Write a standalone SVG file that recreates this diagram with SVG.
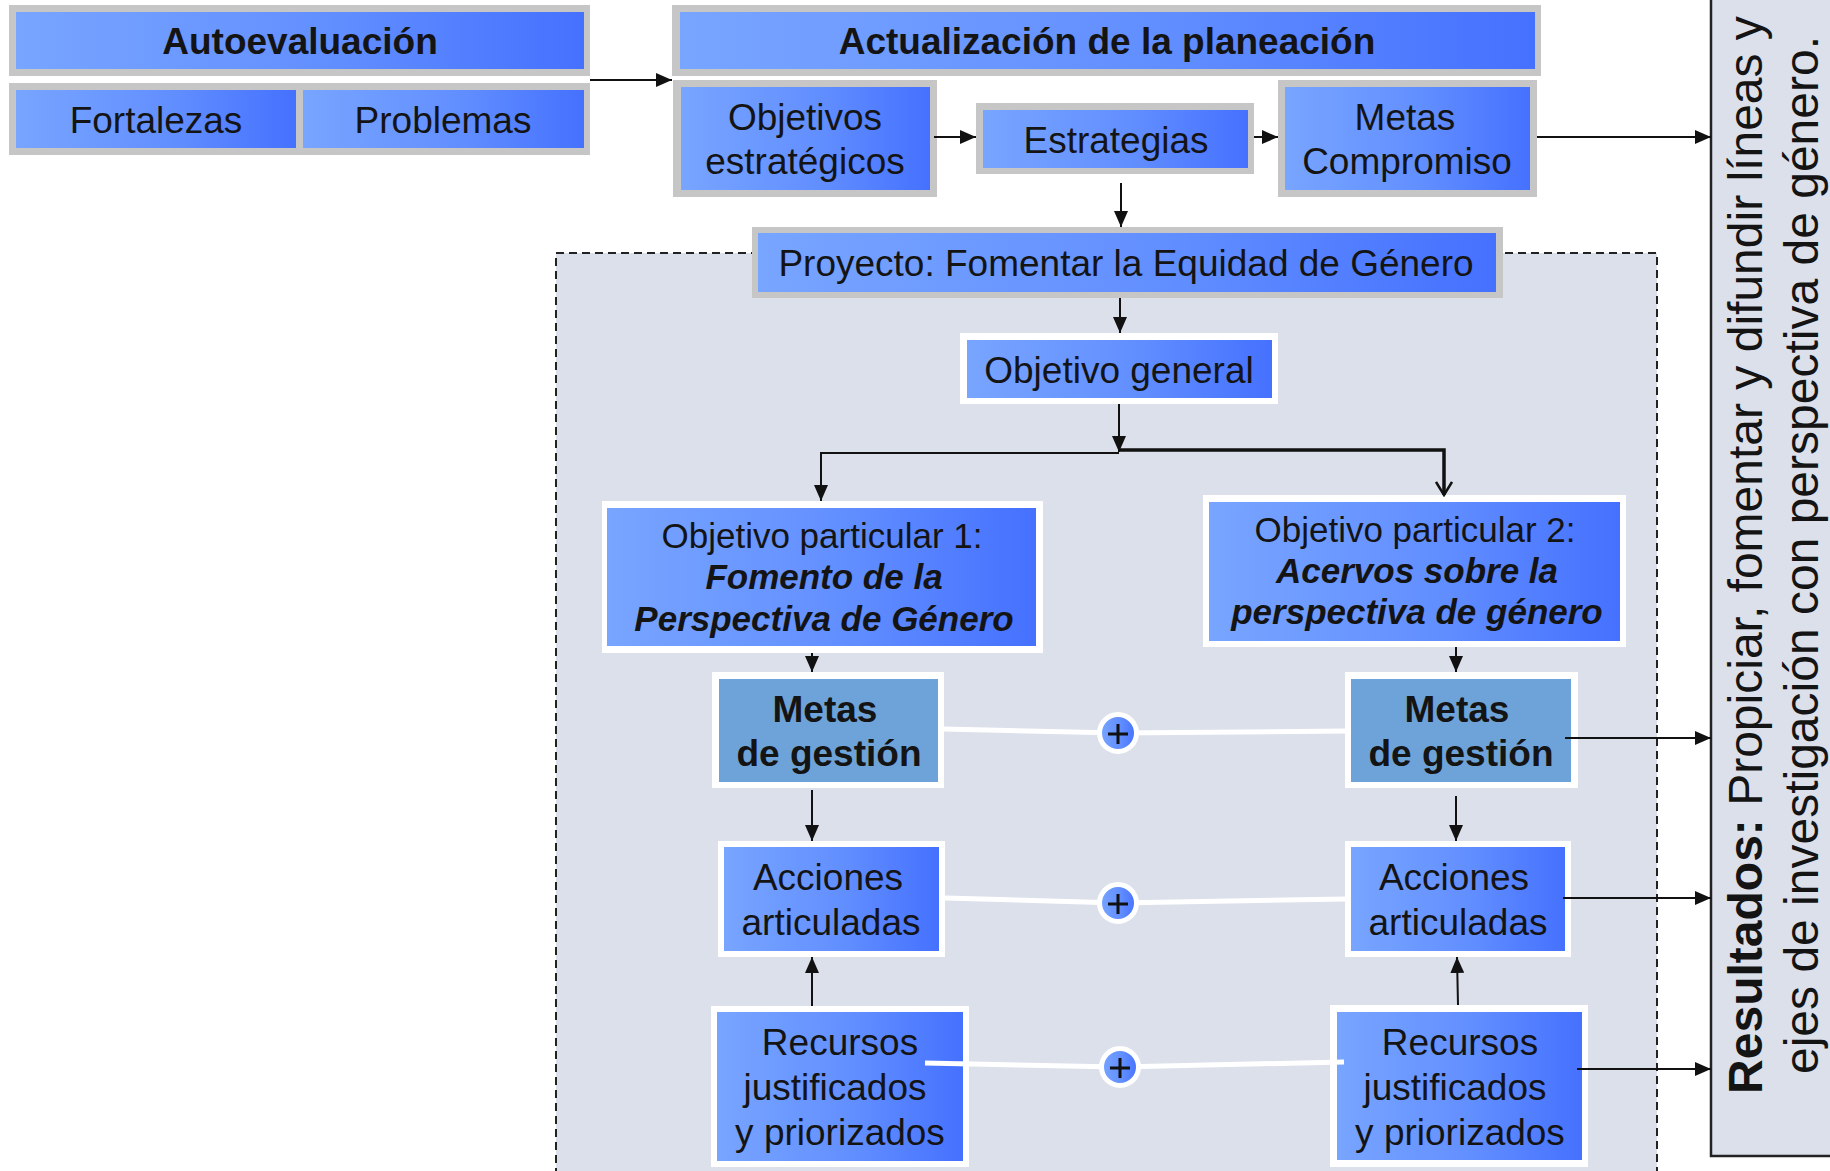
<svg xmlns="http://www.w3.org/2000/svg" width="1830" height="1171" viewBox="0 0 1830 1171">
<style>
text{font-family:"Liberation Sans",Arial,sans-serif;fill:#141414;text-anchor:middle}
.t37{font-size:37px}
.b37{font-size:37px;font-weight:bold}
.t35{font-size:35px}
.bi35{font-size:35px;font-weight:bold;font-style:italic}
.gray{fill:#c6c6c6}
.wht{fill:#ffffff}
.blue{fill:url(#g)}
.steel{fill:#6ea3d9}
.ln{stroke:#111;stroke-width:2;fill:none}
.wl{stroke:#ffffff;stroke-width:5;fill:none}
</style>
<defs>
<linearGradient id="g" x1="0" y1="0" x2="1" y2="0">
<stop offset="0" stop-color="#78a5ff"/>
<stop offset="0.55" stop-color="#628fff"/>
<stop offset="1" stop-color="#4571ff"/>
</linearGradient>
<marker id="a" markerUnits="userSpaceOnUse" markerWidth="16" markerHeight="14" refX="16" refY="7" orient="auto">
<path d="M0,0 L16,7 L0,14 z" fill="#111"/>
</marker>
<marker id="o" markerUnits="userSpaceOnUse" markerWidth="16" markerHeight="18" refX="14" refY="9" orient="auto">
<path d="M1,1 L14,9 L1,17" fill="none" stroke="#111" stroke-width="2.5"/>
</marker>
</defs>
<rect width="1830" height="1171" fill="#ffffff"/>

<g id="frame-proyecto">
<rect x="556" y="253" width="1101" height="940" fill="#dce0eb" stroke="#222" stroke-width="2" stroke-dasharray="8 5"/>
</g>

<g id="resultados">
<rect x="1711" y="-5" width="140" height="1161" fill="#dce0eb" stroke="#222" stroke-width="2.5"/>
<text transform="translate(1762,555) rotate(-90)" style="font-size:48px"><tspan font-weight="bold">Resultados: </tspan>Propiciar, fomentar y difundir líneas y</text>
<text transform="translate(1818,555) rotate(-90)" style="font-size:48px">ejes de investigación con perspectiva de género.</text>
</g>

<g id="autoevaluacion">
<rect class="gray" x="9" y="5" width="581" height="71"/>
<rect class="blue" x="16" y="12" width="568" height="57"/>
<text class="b37" x="300" y="54">Autoevaluación</text>
</g>
<g id="diagnostico">
<rect class="gray" x="9" y="83" width="581" height="72"/>
</g>
<g id="fortalezas">
<rect class="blue" x="16" y="90" width="280" height="58"/>
<text class="t37" x="156" y="133">Fortalezas</text>
</g>
<g id="problemas">
<rect class="blue" x="303" y="90" width="281" height="58"/>
<text class="t37" x="443" y="133">Problemas</text>
</g>

<g id="actualizacion">
<rect class="gray" x="672" y="5" width="869" height="71"/>
<rect class="blue" x="680" y="12" width="855" height="57"/>
<text class="b37" x="1107" y="54">Actualización de la planeación</text>
</g>
<g id="objetivos-estrategicos">
<rect class="gray" x="673" y="80" width="264" height="117"/>
<rect class="blue" x="681" y="87" width="249" height="103"/>
<text class="t37" x="805" y="130">Objetivos</text>
<text class="t37" x="805" y="174">estratégicos</text>
</g>
<g id="estrategias">
<rect class="gray" x="976" y="103" width="278" height="71"/>
<rect class="blue" x="983" y="110" width="265" height="58"/>
<text class="t37" x="1116" y="153">Estrategias</text>
</g>
<g id="metas-compromiso">
<rect class="gray" x="1278" y="80" width="259" height="117"/>
<rect class="blue" x="1285" y="87" width="245" height="103"/>
<text class="t37" x="1405" y="130">Metas</text>
<text class="t37" x="1407" y="174">Compromiso</text>
</g>

<g id="proyecto">
<rect class="gray" x="752" y="227" width="751" height="71"/>
<rect class="blue" x="758" y="233" width="738" height="59"/>
<text class="t37" x="1126" y="276">Proyecto: Fomentar la Equidad de Género</text>
</g>
<g id="objetivo-general">
<rect class="wht" x="960" y="333" width="318" height="71"/>
<rect class="blue" x="967" y="340" width="305" height="58"/>
<text class="t37" x="1119" y="383">Objetivo general</text>
</g>

<g id="objetivo-particular-1">
<rect class="wht" x="602" y="501" width="441" height="152"/>
<rect class="blue" x="607" y="508" width="429" height="138"/>
<text class="t35" x="822" y="548">Objetivo particular 1:</text>
<text class="bi35" x="824" y="589">Fomento de la</text>
<text class="bi35" x="824" y="631">Perspectiva de Género</text>
</g>
<g id="objetivo-particular-2">
<rect class="wht" x="1203" y="495" width="423" height="152"/>
<rect class="blue" x="1209" y="502" width="411" height="139"/>
<text class="t35" x="1415" y="542">Objetivo particular 2:</text>
<text class="bi35" x="1417" y="583">Acervos sobre la</text>
<text class="bi35" x="1417" y="624">perspectiva de género</text>
</g>

<g id="metas-gestion-1">
<rect class="wht" x="712" y="672" width="232" height="116"/>
<rect class="steel" x="719" y="679" width="219" height="103"/>
<text class="b37" x="825" y="722">Metas</text>
<text class="b37" x="829" y="766">de gestión</text>
</g>
<g id="metas-gestion-2">
<rect class="wht" x="1345" y="672" width="233" height="116"/>
<rect class="steel" x="1351" y="679" width="220" height="103"/>
<text class="b37" x="1457" y="722">Metas</text>
<text class="b37" x="1461" y="766">de gestión</text>
</g>

<g id="acciones-1">
<rect class="wht" x="718" y="841" width="227" height="116"/>
<rect class="blue" x="724" y="847" width="215" height="104"/>
<text class="t37" x="828" y="890">Acciones</text>
<text class="t37" x="831" y="935">articuladas</text>
</g>
<g id="acciones-2">
<rect class="wht" x="1345" y="841" width="226" height="116"/>
<rect class="blue" x="1351" y="847" width="214" height="104"/>
<text class="t37" x="1454" y="890">Acciones</text>
<text class="t37" x="1458" y="935">articuladas</text>
</g>

<g id="recursos-1">
<rect class="wht" x="711" y="1006" width="258" height="161"/>
<rect class="blue" x="717" y="1012" width="246" height="149"/>
<text class="t37" x="840" y="1055">Recursos</text>
<text class="t37" x="835" y="1100">justificados</text>
<text class="t37" x="840" y="1145">y priorizados</text>
</g>
<g id="recursos-2">
<rect class="wht" x="1330" y="1005" width="258" height="162"/>
<rect class="blue" x="1337" y="1012" width="245" height="148"/>
<text class="t37" x="1460" y="1055">Recursos</text>
<text class="t37" x="1455" y="1100">justificados</text>
<text class="t37" x="1460" y="1145">y priorizados</text>
</g>

<g id="connectors">
<line class="ln" x1="590" y1="80" x2="672" y2="80" marker-end="url(#a)"/>
<line class="ln" x1="934" y1="137" x2="976" y2="137" marker-end="url(#a)"/>
<line class="ln" x1="1254" y1="137" x2="1278" y2="137" marker-end="url(#a)"/>
<line class="ln" x1="1537" y1="137" x2="1711" y2="137" marker-end="url(#a)"/>
<line class="ln" x1="1121" y1="183" x2="1121" y2="227" marker-end="url(#a)"/>
<line class="ln" x1="1120" y1="298" x2="1120" y2="333" marker-end="url(#a)"/>
<line class="ln" x1="1119" y1="404" x2="1119" y2="452" marker-end="url(#a)"/>
<polyline class="ln" points="1119,453 821,453 821,501" marker-end="url(#a)"/>
<polyline class="ln" style="stroke-width:3.5" points="1119,450 1444,450 1444,495" marker-end="url(#o)"/>
<line class="ln" x1="812" y1="653" x2="812" y2="672" marker-end="url(#a)"/>
<line class="ln" x1="1456" y1="647" x2="1456" y2="672" marker-end="url(#a)"/>
<line class="ln" x1="1565" y1="738" x2="1711" y2="738" marker-end="url(#a)"/>
<line class="ln" x1="812" y1="790" x2="812" y2="841" marker-end="url(#a)"/>
<line class="ln" x1="1456" y1="796" x2="1456" y2="841" marker-end="url(#a)"/>
<line class="ln" x1="1563" y1="898" x2="1711" y2="898" marker-end="url(#a)"/>
<line class="ln" x1="812" y1="1006" x2="812" y2="957" marker-end="url(#a)"/>
<line class="ln" x1="1458" y1="1005" x2="1457" y2="957" marker-end="url(#a)"/>
<line class="ln" x1="1577" y1="1069" x2="1711" y2="1069" marker-end="url(#a)"/>
<polyline class="wl" points="944,729 1118,733 1345,731"/>
<polyline class="wl" points="945,898 1118,903 1345,899"/>
<polyline class="wl" points="925,1063 1119,1067 1344,1062"/>
</g>

<g id="suma-1">
<circle cx="1118" cy="733" r="18.5" fill="url(#g)" stroke="#ffffff" stroke-width="5"/>
<path d="M1108,734 H1128 M1118,724 V744" stroke="#111" stroke-width="3"/>
</g>
<g id="suma-2">
<circle cx="1118" cy="903" r="18.5" fill="url(#g)" stroke="#ffffff" stroke-width="5"/>
<path d="M1108,904 H1128 M1118,894 V914" stroke="#111" stroke-width="3"/>
</g>
<g id="suma-3">
<circle cx="1120" cy="1067" r="18.5" fill="url(#g)" stroke="#ffffff" stroke-width="5"/>
<path d="M1110,1068 H1130 M1120,1058 V1078" stroke="#111" stroke-width="3"/>
</g>
</svg>
